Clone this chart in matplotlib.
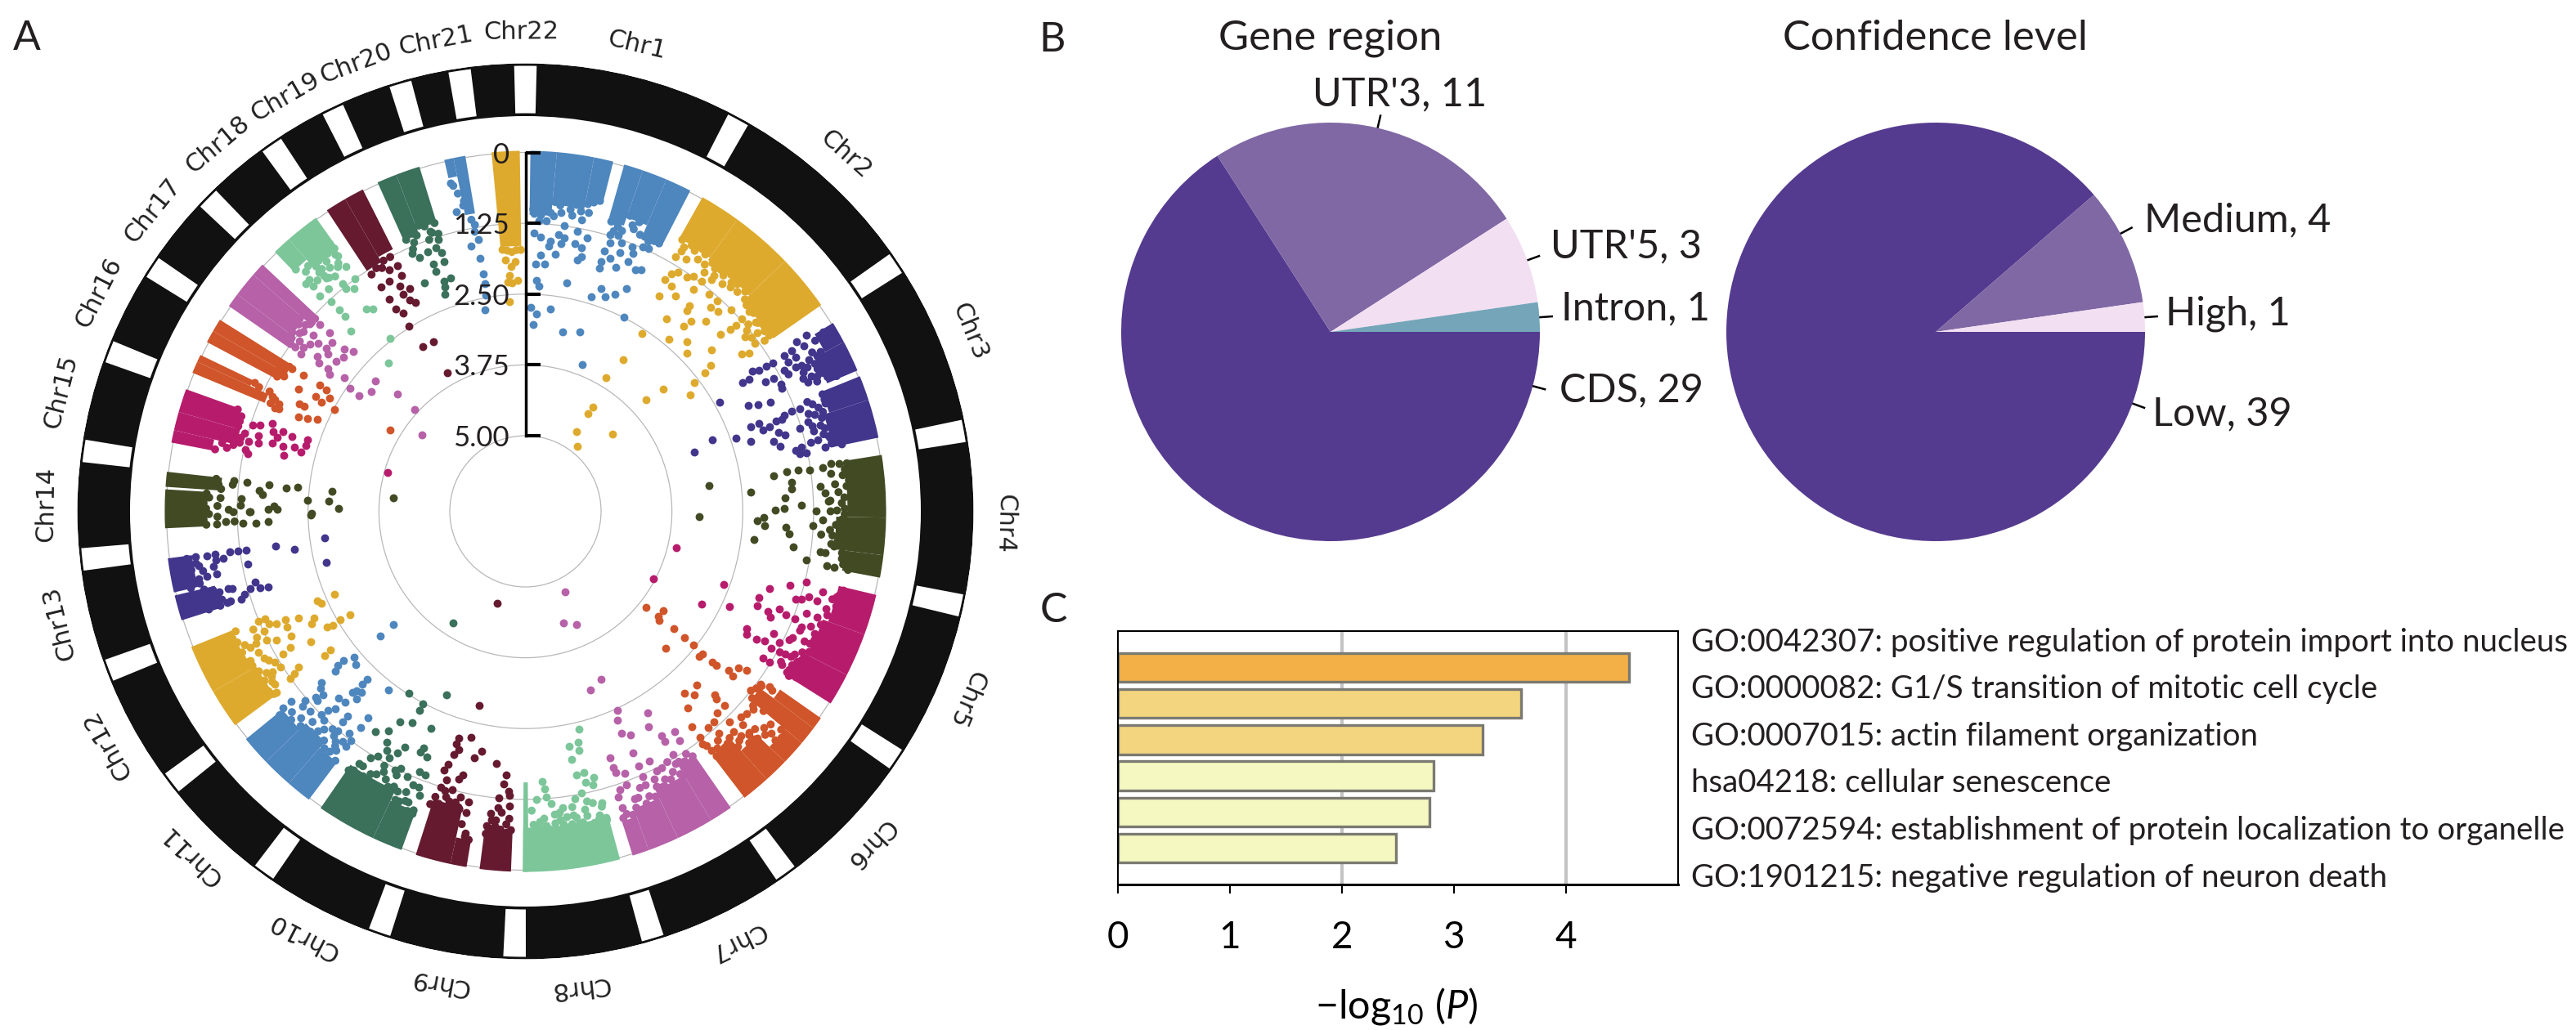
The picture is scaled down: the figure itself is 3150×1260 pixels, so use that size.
import numpy as np
import matplotlib
matplotlib.use('Agg')
import matplotlib.pyplot as plt

plt.rcParams['font.family'] = ['Lato', 'DejaVu Sans']
plt.rcParams['mathtext.fontset'] = 'custom'
plt.rcParams['mathtext.rm'] = 'Lato'
plt.rcParams['mathtext.it'] = 'Lato:italic'
plt.rcParams['text.color'] = '#231f20'

W, H = 3150, 1260

# panel A: chromosome gaps (deg clockwise from top) and label angles
chr_names = ['Chr%d' % i for i in range(1, 23)]
chr_gaps = [0, 28.5, 56.2, 79.6, 102.2, 123.8, 144.3, 163.4, 181.4, 199.1, 215.9,
            232.5, 249.1, 263.8, 277.8, 291, 303.2, 314.6, 325.3, 334.4, 343.7, 351.5]
chr_label_theta = [13.4, 41.9, 68, 91.5, 113, 134, 153.8, 173.5, 190.3, 207.5, 224.2,
                   240.8, 256.5, 270.8, 284.4, 297.1, 308.9, 320, 329.9, 339.3, 349.2, 359.5]
chr_colors = ['#4e86be', '#deaa2e', '#41358c', '#424a24', '#b71c6c', '#d0552a', '#b661a8',
              '#7cc69a', '#651a2f', '#3b705b', '#4e86be', '#deaa2e', '#41358c', '#424a24',
              '#b71c6c', '#d0552a', '#b661a8', '#7cc69a', '#651a2f', '#3b705b', '#4e86be', '#deaa2e']
scale_ticks = [0, 1.25, 2.5, 3.75, 5]
scale_labels = ['0', '1.25', '2.50', '3.75', '5.00']

# saturated part of each chromosome near -log10 P = 0
block_chr = [1, 1, 1, 1, 1, 1, 2, 2, 2, 3, 3, 3, 3, 4, 4, 4, 5, 5, 5, 6, 6, 6, 6, 6, 7, 7, 7, 7,
             8, 8, 9, 9, 9, 10, 10, 11, 11, 11, 12, 12, 13, 13, 14, 14, 15, 15, 15,
             16, 16, 16, 16, 17, 17, 17, 18, 18, 19, 19, 20, 20, 21, 21, 22]
block_start = [0.8, 5, 11, 15.9, 19, 23, 29.4, 36, 46, 58.5, 62, 68, 72, 81, 91, 97, 103.4, 110, 117,
               125, 127, 130, 134, 138, 145.3, 149, 155, 160, 164.8, 179.5, 182.3, 189.4, 192,
               200.1, 205, 216.9, 221, 226, 233.6, 240, 252.4, 257, 267.3, 273.9, 281, 283, 286,
               292.6, 294.5, 298, 300, 304.7, 307, 311, 316, 319, 326.6, 330, 335.8, 339, 347, 348.5, 354.6]
block_end = [5, 11, 14.1, 19, 23, 27.2, 36, 46, 55.1, 62, 67, 72, 78.2, 91, 97, 100.6, 110, 117, 122.2,
             127, 130, 134, 138, 142.6, 149, 155, 160, 162.7, 180.4, 180.4, 187.3, 192, 197.7,
             205, 214.6, 221, 226, 230.8, 240, 247.9, 256.5, 262.5, 273.5, 276.3, 283, 286, 289.8,
             294.5, 295.7, 300, 302.1, 307, 311, 313.2, 319, 324.5, 330, 333.2, 339, 342.9, 348.5, 350.4, 359.1]
block_depth = [1.1, 0.9, 0.75, 1.0, 0.85, 1.05, 0.8, 0.85, 1.0, 0.35, 0.55, 0.7, 0.8, 0.65, 0.85, 0.65,
               0.65, 0.75, 0.85, 0.85, 1.15, 0.35, 0.65, 0.9, 1.1, 0.9, 0.75, 0.6, 0.75, 1.55, 0.7, 0.45, 1.0,
               0.7, 0.9, 0.8, 0.95, 0.8, 0.85, 0.75, 0.7, 0.4, 0.72, 0.95, 0.7, 1.1, 1.0,
               1.35, 1.0, 1.3, 1.4, 1.25, 1.15, 1.3, 0.45, 0.65, 1.25, 1.15, 1.1, 1.0, 0.3, 1.0, 1.65]

# single points below the saturated part, read one by one
chr1_theta = [1.6, 2.7, 4.7, 4.1, 6.8, 7.7, 1.7, 3.2, 6.8, 10.5, 5.2, 8.0, 12.7, 10.5, 5.1, 12.0, 7.6, 6.7, 3.4, 2.3,
              4.5, 11.7, 12.4, 2.8, 3.5, 10.2, 18.7, 24.4, 22.5, 20.3, 17.0, 1.6, 3.2, 7.0, 2.4, 11.7, 16.8, 26.8, 21.1,
              16.8, 20.4, 17.0, 18.6, 17.5, 19.6, 20.0, 21.9, 23.9, 25.0, 16.9, 16.8, 18.6, 20.3, 16.9, 22.3, 24.4, 25.7, 22.7]
chr1_v = [1.08, 1.2, 1.04, 1.19, 1.02, 1.25, 1.42, 1.49, 1.42, 1.31, 1.55, 1.46, 1.39, 1.53, 1.64, 1.58, 1.57, 1.77, 1.8, 1.97,
          1.96, 1.81, 1.73, 2.26, 2.35, 2.24, 2.19, 2.02, 2.19, 2.29, 2.37, 2.74, 2.84, 2.73, 3.03, 3.1, 3.03, 2.49, 3.56,
          0.98, 0.94, 1.22, 1.2, 1.36, 1.3, 1.47, 1.3, 1.23, 1.21, 1.53, 1.73, 1.63, 1.74, 1.85, 1.57, 1.65, 1.61, 1.4]
chr2_theta = [30.5, 30.8, 32.5, 34.3, 31.6, 32.6, 34.5, 35.6, 37.4, 31.0, 33.0, 37.1, 40.2, 34.8, 31.8, 42.4, 38.5, 38.8, 42.3, 43.9,
              45.6, 48.3, 36.2, 40.5, 41.1, 43.4, 48.3, 50.6, 48.5, 48.4, 47.8, 50.6, 54.1, 52.4, 51.5, 53.8, 54.7, 54.0, 49.1, 45.6,
              43.6, 39.8, 33.2, 51.7, 52.4, 52.6, 54.8, 48.4, 47.2, 32.9, 31.0, 32.9, 32.6, 32.7, 38.7, 48.4, 38.6, 40.8, 42.4, 36.8, 38.7, 47.9]
chr2_v = [1.11, 0.98, 1.05, 0.94, 1.41, 1.33, 1.31, 1.24, 1.22, 1.57, 1.6, 1.42, 1.31, 1.7, 1.86, 1.31, 1.69, 1.79, 1.47, 1.44,
          1.26, 1.04, 2.13, 2.03, 1.88, 1.71, 1.23, 1.07, 1.38, 1.5, 1.69, 1.29, 1.04, 1.17, 1.38, 1.32, 1.5, 1.61, 1.99, 2.34,
          2.21, 2.38, 2.58, 2.17, 2.33, 2.59, 2.78, 3.08, 3.44, 3.15, 3.58, 4.14, 4.28, 4.67, 4.87, 4.28, 1.0, 1.02, 0.98, 1.07, 1.09, 0.95]
chr3_theta = [58.0, 59.3, 57.9, 58.9, 59.0, 60.3, 61.9, 59.0, 58.9, 58.8, 58.3, 61.5, 61.5, 61.8, 62.8, 64.7, 65.1, 65.1, 61.9, 61.6,
              59.4, 59.3, 63.5, 64.4, 62.1, 66.2, 60.6, 64.6, 65.3, 65.9, 69.5, 69.4, 69.7, 70.2, 70.9, 69.4, 69.4, 71.1, 70.3, 73.1,
              72.6, 73.5, 74.3, 75.7, 72.8, 70.9, 69.0, 70.5, 77.2, 76.9, 78.2, 78.2, 69.4, 71.5, 73.7, 70.2, 76.0, 73.8, 76.3, 77.9, 75.5, 78.0]
chr3_v = [0.69, 0.62, 0.48, 0.85, 1.0, 0.85, 0.66, 1.25, 1.38, 1.52, 1.63, 0.42, 1.13, 0.93, 0.75, 0.75, 0.66, 0.5, 1.37, 1.52,
          1.75, 1.88, 1.3, 1.32, 0.83, 0.18, 2.4, 1.98, 1.82, 1.6, 1.17, 1.32, 1.46, 1.63, 1.77, 1.94, 2.09, 1.9, 1.53, 1.28,
          1.66, 1.56, 1.78, 1.69, 2.17, 2.4, 2.8, 3.18, 1.45, 1.34, 1.27, 1.39, 0.93, 0.95, 0.92, 0.71, 0.83, 0.72, 1.03, 0.92, 0.66, 0.63]
chr4_theta = [81.7, 81.4, 81.4, 81.8, 83.8, 85.2, 87.1, 88.8, 89.3, 89.7, 81.9, 85.2, 85.2, 86.5, 88.1, 89.9, 81.1, 81.6, 81.3,
              91.8, 92.3, 91.5, 93.4, 93.5, 94.8, 97.0, 97.6, 99.9, 91.7, 92.9, 97.9, 97.8, 96.0, 89.7, 98.5, 100.2, 100.3, 92.1]
chr4_v = [1.27, 1.47, 1.67, 1.91, 1.61, 1.62, 1.75, 1.47, 1.77, 1.93, 3.06, 2.35, 1.12, 1.03, 0.99, 1.21, 0.88, 1.03, 0.74,
          3.26, 2.24, 2.12, 2.1, 1.73, 1.67, 2.27, 1.56, 1.3, 1.09, 1.25, 0.99, 1.09, 0.91, 0.85, 0.69, 0.93, 0.8, 0.75]
chr5_theta = [104.1, 105.7, 107.6, 110.2, 112.1, 110.2, 117.8, 115.0, 117.8, 103.5, 107.7, 106.8, 108.1, 111.1, 112.5, 113.4, 111.6,
              111.7, 112.7, 107.1, 105.1, 105.4, 117.9, 119.1, 116.2, 119, 118.4, 117.4, 115.3, 114.9, 119.1, 118.8, 118.7, 121.7,
              121.7, 120.9, 121.6, 121.5, 116.3, 118.3, 112.9]
chr5_v = [1.23, 1.49, 1.81, 1.94, 1.92, 2.6, 2.82, 2.37, 3.78, 3.59, 1.23, 1.11, 1.32, 1.53, 1.7, 1.63, 1.39,
          1.21, 1.06, 0.95, 0.9, 0.64, 1.92, 1.87, 1.45, 1.68, 1.54, 1.29, 1.12, 0.81, 1.37, 1.11, 0.99, 1.41,
          1.27, 1.06, 0.93, 0.74, 0.75, 0.81, 0.79]
chr6_theta = [128.4, 125.8, 128.3, 129.1, 128.4, 128.4, 128.5, 134.3, 128.8, 130, 128.9, 128.9, 128, 128.4, 126.3, 125.7, 126.3, 125.7,
              135.4, 138.9, 137.4, 140.5, 142.4, 134.1, 134.5, 134.3, 136.4, 133.6, 132.5, 136, 138.2, 139.8, 142.3, 142.7, 142.2,
              138.9, 136.7, 136.2, 134.7, 134.4, 132.2, 132.1, 135.6, 139.8, 141.4, 137.9, 134.9, 138.9]
chr6_v = [3.61, 3.33, 3.35, 3.29, 3.0, 2.75, 2.55, 2.87, 2.32, 2.34, 2.1, 2.0, 1.78, 1.66, 1.67, 1.53, 1.19, 1.03,
          2.02, 2.07, 1.93, 1.84, 1.53, 1.69, 1.61, 1.42, 1.43, 1.08, 1.04, 1.16, 1.35, 1.34, 1.29, 1.17, 0.99,
          1.14, 0.99, 0.84, 0.78, 0.61, 0.65, 0.5, 0.47, 0.89, 0.77, 0.74, 0.65, 0.76]
chr7_theta = [161.2, 155.8, 153.7, 155.8, 160.1, 155.2, 156.3, 148.8, 150.2, 156.5, 154.8, 145.9, 148.7, 148.8, 146.1, 156, 161, 153.6,
              156, 161.1, 160.9, 159.2, 148.8, 149.2, 153.2, 156.1, 159.7, 161.3, 153.1, 156.3, 154.4, 162, 159.2, 161.9, 162, 148.9]
chr7_v = [4.26, 4.14, 4.75, 3.09, 2.98, 2.46, 2.31, 2.18, 1.96, 2.07, 1.97, 1.64, 1.7, 1.59, 1.46, 1.67, 1.73, 1.41,
          1.42, 1.56, 1.46, 1.38, 1.31, 1.16, 1.2, 1.22, 1.19, 1.14, 0.89, 1.06, 1.09, 1.03, 0.91, 0.83, 0.55, 0.92]
chr8_theta = [166.2, 167.1, 169.4, 167.3, 169.4, 167.3, 169.1, 165.6, 167.5, 166.1, 176.4, 176.1, 177.8, 175.9, 174.9, 170.3, 168.7,
              165.3, 172.9, 174.6, 168.8, 166.3, 165.2, 171, 172.3, 177.4, 170.3, 173, 176.2, 168.2]
chr8_v = [2.38, 2.15, 2.12, 2.01, 1.88, 1.61, 1.59, 1.48, 1.44, 1.36, 1.55, 1.42, 1.24, 1.28, 1.15, 1.19, 1.26,
          1.02, 1.06, 0.96, 0.97, 0.82, 0.75, 0.91, 0.9, 0.85, 0.73, 0.77, 0.77, 0.67]
chr9_theta = [197.2, 193.4, 196.4, 193.5, 196.6, 195.6, 196.3, 190.4, 191.8, 186.6, 184.2, 184.5, 183.4, 185.3, 183.2, 183.1, 185.2, 186.6,
              197, 197.5, 193.3, 193.9, 196.4, 197, 194.7, 192.8, 191.1, 191.2, 190.6, 192.9, 194.7, 185.5, 187.1, 183.4, 190.6]
chr9_v = [4.64, 2.81, 2.16, 2.23, 2.05, 1.97, 1.86, 2.03, 1.89, 1.86, 1.67, 1.51, 1.38, 1.25, 1.31, 1.12, 1.08, 0.97,
          1.66, 1.55, 1.55, 1.46, 1.4, 1.24, 1.25, 1.16, 1.1, 0.92, 0.5, 0.99, 1.04, 0.86, 0.75, 0.66, 0.32]
chr10_theta = [203.2, 212.9, 212.6, 208, 208, 203.5, 208.2, 210.7, 211.9, 214.2, 211, 207, 203.3, 203.5, 201.9, 208, 208.9, 205.9,
               202.2, 200.9, 206.8, 204, 202.4, 201.2, 200.5, 204.4, 201.9, 200.5, 213.4, 212.2, 211, 210.1]
chr10_v = [2.81, 3.99, 2.52, 2.48, 2.35, 2.15, 2.1, 2.01, 1.77, 1.63, 1.58, 1.66, 1.78, 1.7, 1.66, 1.51, 1.37, 1.29,
           1.37, 1.36, 1.22, 1.21, 1.12, 1.11, 0.98, 0.75, 0.8, 0.64, 1.01, 1.2, 1.29, 1.45]
chr11_theta = [229.3, 229.4, 229.6, 230.6, 227.9, 230.7, 230, 223.2, 223.4, 223.2, 223.7, 222.1, 217.4, 230, 229.2, 227.8, 228.4, 227.8,
               229.4, 228.8, 230.9, 230.9, 225, 223.3, 222, 224, 224.8, 220.9, 217.3, 220.9, 217.3, 223.9, 220.6, 220.5, 218.4, 217.2,
               218.4, 219.6, 217.4, 219.3, 220, 222.8]
chr11_v = [3.26, 2.96, 2.36, 2.18, 2.29, 2.05, 1.95, 2.26, 2.14, 1.99, 1.92, 2.03, 2.36, 1.63, 1.56, 1.51, 1.38, 1.37,
           1.21, 1.1, 1.01, 0.83, 1.68, 1.7, 1.88, 1.5, 1.39, 1.55, 1.76, 1.41, 1.54, 1.21, 1.24, 1.12, 1.34, 1.25,
           1.15, 1.07, 1.11, 0.87, 0.73, 1.1]
chr12_theta = [246.6, 246.7, 245.8, 239.6, 239.6, 239.3, 239.8, 243.2, 242.2, 244.8, 247.6, 247.6, 245.7, 244.1, 245.7, 246.3, 238.7, 241.9,
               242.7, 240, 239.5, 234.6, 234.4, 235.5, 235, 234.6, 235.4, 234, 237, 237.5, 238.9, 243.5, 245.4, 243.9, 243.7, 242.1,
               241.5, 241.9, 240.7]
chr12_v = [2.66, 2.33, 2.39, 2.74, 2.55, 2.39, 2.28, 2.16, 2.07, 1.91, 1.36, 1.24, 1.68, 1.66, 1.51, 1.4, 1.91, 1.65,
           1.39, 1.54, 1.37, 2.12, 1.97, 1.47, 1.35, 1.24, 0.97, 0.9, 1.0, 1.21, 1.17, 1.23, 1.26, 1.04, 0.92, 1.0,
           0.81, 0.64, 1.04]
chr13_theta = [262.5, 255.5, 262, 260.7, 262, 262.1, 262.2, 259.2, 258.5, 258.5, 258.3, 262.1, 262, 262.1, 261.1, 261.1, 255.2, 255.4,
               253.7, 254, 255.4, 254.4, 253.6, 252.8, 255.3, 253.8, 253, 252.9, 260.6, 257.2]
chr13_v = [2.76, 2.71, 1.89, 2.2, 1.36, 1.22, 1.07, 1.35, 0.77, 0.6, 0.45, 0.8, 0.66, 0.46, 0.94, 0.81, 0.99, 0.91,
           1.6, 1.46, 1.4, 1.29, 1.17, 1.08, 0.75, 0.75, 0.83, 0.49, 0.49, 0.27]
chr14_theta = [276, 275.5, 276, 275.9, 272.8, 272.9, 270.8, 275.8, 269.4, 274.5, 273.7, 276, 276, 269.9, 272.6, 271.2, 270.4, 271.3, 270.4,
               269, 267.8, 267.5, 267.6, 269.9, 269.9, 268, 267.6]
chr14_v = [1.79, 2.1, 2.29, 2.91, 2.48, 2.86, 3.04, 3.99, 2.56, 1.63, 1.69, 1.4, 1.16, 1.48, 1.31, 1.31, 1.79, 1.89, 1.96,
           2.55, 1.8, 1.57, 1.35, 1.47, 1.17, 1.04, 0.88]
chr15_theta = [281.7, 282.4, 284.2, 287.6, 288, 285.8, 284.4, 289.1, 287.5, 288.2, 286.6, 287.7, 285.1, 284.9, 283.1, 285.6, 284.7,
               288.1, 286.7, 285.9]
chr15_v = [1.33, 1.27, 1.3, 1.29, 1.41, 1.44, 1.47, 1.61, 1.67, 1.83, 1.77, 2.01, 1.71, 1.9, 1.96, 2.1, 2.24,
           2.29, 2.29, 3.81]
chr16_theta = [301.6, 301.5, 301.5, 298.4, 298.7, 300.1, 298.2, 295.4, 295.4, 298.1, 292.6, 293.1, 293.8, 301, 292.5, 292.6, 294.4,
               299.3, 301.4, 299.7]
chr16_v = [1.74, 2.08, 2.22, 1.79, 2.12, 2.34, 2.25, 1.92, 2.02, 2.52, 2.0, 2.15, 2.32, 3.55, 1.55, 1.62, 1.43,
           1.45, 1.5, 1.41]
chr17_theta = [305, 306.5, 307.8, 309.1, 312.4, 311.2, 309.3, 306.7, 305.7, 308.5, 311.9, 312.9, 310.3, 308.5, 305.8, 304.9, 306.5,
               305, 304.8, 311.1, 308, 312.6, 312.5, 306.4, 310.3, 309.7, 308.4, 312.3]
chr17_v = [1.5, 1.47, 1.53, 1.63, 1.65, 1.8, 1.8, 1.75, 1.84, 1.88, 2.04, 2.19, 2.12, 2.07, 2.04, 2.12, 2.36,
           2.55, 2.76, 2.83, 2.89, 3.27, 3.68, 4.07, 1.23, 1.47, 1.25, 1.43]
chr18_theta = [317.1, 317.3, 317.2, 316, 322, 317.2, 321.8, 323.1, 321.3, 322.4, 321.1, 316.4, 316.7, 316.1, 319.5, 321.3, 319.1,
               323.8, 323.7, 323.7, 323.8, 319.6]
chr18_v = [1.29, 1.5, 1.65, 1.91, 2.46, 2.77, 1.79, 1.86, 1.18, 1.38, 1.29, 1.08, 0.87, 0.75, 0.86, 0.81, 0.76,
           1.25, 0.98, 0.74, 0.48, 0.92]
chr19_theta = [330.6, 328, 331.5, 327.9, 328.3, 327.4, 331.3, 332.2, 330.6, 327.3, 327.2, 329.4, 330.9, 332.6, 332.4, 332.5, 330.6]
chr19_v = [3.52, 2.91, 2.93, 2.47, 2.23, 2.1, 2.09, 2.17, 1.94, 1.89, 1.63, 1.62, 1.79, 1.9, 1.63, 1.45, 1.44]
chr20_theta = [336.4, 337.3, 339.3, 342, 341.2, 342, 339.5, 339.5, 342.3, 340.5, 340.3, 339.6, 336.1, 342.3, 341.2]
chr20_v = [1.36, 1.48, 1.44, 1.54, 1.42, 1.7, 1.68, 1.81, 2.01, 2.02, 2.13, 2.25, 1.93, 1.3, 1.12]
chr21_theta = [347, 348.5, 350.1, 348.4, 349.8, 350, 349.9, 349.5, 348.6, 349.6]
chr21_v = [0.91, 0.82, 1.47, 1.56, 1.8, 2.08, 2.25, 2.46, 2.7, 1.31]
chr22_theta = [355.6, 355.4, 357.6, 356.6, 356.1, 355.7, 358, 356.6]
chr22_v = [2.62, 1.89, 1.92, 2.01, 2.16, 2.27, 2.26, 2.3]

# points along the lower rim of the saturated part
rim_chr = [1] * 29 + [2] * 28 + [3] * 31 + [4] * 25 + [5] * 24 + [6] * 24 + [7] * 21 + [8] * 20 + [9] * 20 + \
    [10] * 18 + [11] * 18 + [12] * 18 + [13] * 14 + [14] * 16 + [15] * 11 + [16] * 10 + [17] * 12 + [18] * 17 + \
    [19] * 5 + [20] * 11 + [21] * 6 + [22] * 5
rim_theta = [1.5, 3, 5.5, 6.5, 7.5, 8.5, 9.5, 10.5, 11.5, 12.5, 13.5, 12, 13, 9, 11, 5.5,
             16.5, 18, 19.5, 20.5, 21.5, 22.5, 23.5, 24.5, 25.5, 26.5, 17.5, 21, 19,
             30, 31, 32, 33, 34, 35, 36, 37, 38, 39, 40, 41, 42, 43, 44, 45, 46, 47, 48, 49, 50, 51, 52, 53, 54, 54.5, 52.5, 50,
             59, 59.5, 60.5, 61, 62, 63, 64, 65, 66, 66.5, 63.5, 64.5, 62.5, 60.5, 66, 65.5,
             68.5, 69.5, 70.5, 71.5, 72.5, 73.5, 74.5, 75.5, 76.5, 77.5, 71, 72.5, 74.5, 76.5, 68.8,
             81.5, 82.5, 83.5, 84.5, 85.5, 86.5, 87.5, 88.5, 89.5, 90.5, 91.5, 92.5, 93.5, 94.5, 95.5, 96.5, 97.5, 98.5, 99.5, 100.3, 85, 88, 90, 94.5, 83,
             104, 105, 106, 107, 108, 109, 110, 111, 112, 113, 114, 115, 116, 117, 118, 119, 120, 121, 122, 110, 113.5, 116, 119, 120.5,
             130.5, 131, 131.5, 132.5, 133, 133.5, 134.5, 135, 136, 137, 138, 139, 140, 141, 142, 142.3, 126, 126.5, 127.5, 128.5, 129.5, 130, 130.5, 131,
             145.7, 146.5, 147.5, 148.5, 149.5, 150.5, 151.5, 152.5, 153.5, 154.5, 155.5, 156.5, 157.5, 158.5, 159.5, 160.5, 161.5, 162.3, 152, 157.5, 150.5,
             165.2, 166.5, 167.5, 168.5, 169.5, 170.5, 171.5, 172.5, 173.5, 174.5, 175.5, 176.5, 177.5, 178.5, 167, 168, 171, 173.5, 178.8, 165.5,
             182.6, 183.5, 184.5, 185.5, 186.5, 187, 183, 184.5, 186.2, 189.8, 190.5, 191.5, 192.5, 193.5, 194.5, 195.5, 196.5, 197.5, 196, 198,
             200.5, 201.5, 202.5, 203.5, 204.5, 205.5, 206.5, 207.5, 208.5, 209.5, 210.5, 211.5, 212.5, 213.5, 214.3, 206, 209, 203,
             217.3, 218.3, 219.3, 220.3, 221.3, 222.3, 223.3, 224.3, 225.3, 226.3, 227.3, 228.3, 229.3, 230.3, 221.5, 225, 227, 219,
             234, 235, 236, 237, 238, 239, 239.8, 240.5, 241.5, 242.5, 243.5, 244.5, 245.5, 246.5, 247.5, 246.5, 244.8, 237.5,
             252.8, 253.5, 254.3, 255, 255.8, 256.3, 257.5, 258.7, 259.5, 260, 261, 262, 259.9, 253,
             267.6, 268.5, 269.5, 270.5, 271.5, 272.5, 273.2, 274.2, 275, 276, 269, 271, 272.5, 268, 270.3, 275.2,
             281.3, 282, 282.7, 283.5, 284.5, 285.5, 286.5, 287.5, 288.5, 289.5, 282.8,
             293, 294, 295, 295.4, 298.5, 299.5, 300.5, 301.5, 295.1, 293.5,
             305.5, 306.5, 307.5, 308.5, 309.5, 310.5, 311.5, 312.5, 307, 309, 311, 305.5,
             316.5, 317.5, 318.5, 319.5, 320.5, 321.5, 322.5, 323.5, 324, 317, 318, 320, 321, 322.5, 320, 323, 318.5,
             327, 328.5, 330.5, 332, 329.5,
             336.3, 337.5, 338.5, 339.5, 340.5, 341.5, 342.5, 336.8, 338, 340.5, 342.6,
             347.5, 348, 348.8, 349.5, 350, 347.2,
             355, 356, 357, 358, 359]
rim_v = [1.0, 1.1, 0.85, 0.9, 0.8, 0.95, 0.85, 0.95, 0.8, 0.75, 0.7, 0.95, 0.6, 1.05, 1.1, 1.1,
         1.0, 1.05, 0.8, 0.75, 0.85, 1.05, 1.05, 1.1, 1.05, 1.05, 1.15, 1.0, 1.1,
         0.8, 0.9, 0.8, 0.85, 0.75, 0.8, 0.95, 0.85, 0.9, 0.85, 0.9, 0.8, 0.9, 0.85, 0.95, 0.85, 0.95, 1.0, 0.9, 1.0, 0.95, 1.05, 1.0, 1.05, 0.95, 1.15, 1.3, 1.2,
         0.2, 0.4, 0.15, 0.55, 0.5, 0.6, 0.6, 0.55, 0.5, 0.35, 0.85, 0.9, 1.1, 1.0, 0.7, 0.85,
         0.7, 0.7, 0.85, 0.8, 0.85, 1.05, 0.85, 0.9, 0.8, 0.8, 1.05, 1.1, 1.05, 1.15, 1.0,
         0.6, 0.65, 0.7, 0.6, 0.65, 0.8, 0.7, 0.75, 0.7, 0.7, 0.75, 0.85, 0.95, 0.9, 0.8, 0.85, 0.7, 0.6, 0.65, 0.55, 0.85, 0.95, 0.95, 1.1, 0.9,
         0.55, 0.6, 0.7, 0.6, 0.75, 0.7, 0.85, 0.75, 0.9, 0.7, 0.75, 0.9, 0.7, 0.85, 0.95, 0.85, 0.9, 0.9, 0.85, 1.05, 1.05, 1.15, 1.2, 1.1,
         0.4, 0.6, 0.3, 0.35, 0.55, 0.75, 0.95, 0.75, 0.65, 0.8, 0.95, 0.9, 1.05, 0.95, 0.85, 1.1, 0.95, 1.15, 1.2, 1.25, 1.15, 0.85, 1.05, 1.0,
         1.1, 1.2, 1.1, 1.15, 0.95, 1.05, 0.95, 1.0, 0.9, 0.95, 0.8, 0.85, 0.75, 0.9, 0.75, 0.65, 0.7, 0.65, 1.2, 1.05, 1.25,
         0.7, 0.75, 0.7, 0.85, 0.75, 0.85, 0.75, 0.7, 0.85, 0.8, 0.7, 0.9, 0.75, 0.8, 1.05, 1.1, 1.05, 0.98, 1.05, 0.95,
         0.7, 0.8, 0.7, 0.75, 0.7, 0.6, 0.9, 1.0, 0.85, 0.45, 0.55, 0.7, 0.95, 1.05, 0.95, 1.1, 0.95, 1.05, 1.2, 0.9,
         0.7, 0.65, 0.8, 0.75, 0.9, 0.95, 0.9, 1.0, 1.1, 1.0, 0.95, 0.85, 1.0, 0.85, 0.8, 1.15, 1.2, 0.95,
         0.8, 0.95, 0.75, 0.85, 0.95, 0.85, 1.0, 0.9, 1.05, 0.85, 0.95, 0.8, 0.9, 0.7, 1.2, 1.25, 1.15, 1.0,
         0.85, 0.8, 0.95, 0.85, 0.95, 0.85, 1.1, 0.8, 0.75, 0.7, 0.75, 0.85, 0.75, 0.7, 0.8, 1.1, 1.1, 1.05,
         0.7, 0.6, 0.7, 0.6, 0.65, 0.5, 0.45, 0.3, 0.55, 0.35, 0.45, 0.3, 0.75, 0.9,
         0.7, 0.65, 0.75, 0.7, 0.65, 0.75, 0.7, 0.95, 0.9, 0.85, 0.9, 0.9, 0.95, 1.2, 1.1, 1.15,
         0.75, 0.95, 0.85, 1.15, 1.15, 1.2, 1.05, 1.05, 1.05, 0.95, 1.05,
         1.45, 1.5, 1.15, 1.05, 1.35, 1.3, 1.4, 1.45, 1.35, 1.6,
         1.25, 1.2, 1.15, 1.1, 1.15, 1.1, 1.3, 1.3, 1.35, 1.3, 1.3, 1.35,
         0.45, 0.6, 0.55, 0.65, 0.6, 0.7, 0.6, 0.7, 0.6, 0.75, 0.85, 0.95, 1.0, 0.9, 0.75, 0.85, 1.1,
         1.35, 1.3, 1.25, 1.25, 1.35,
         1.1, 1.2, 1.1, 0.95, 1.0, 1.15, 1.0, 1.3, 1.05, 1.25, 1.2,
         0.45, 0.6, 0.75, 1.1, 1.2, 0.4,
         1.7, 1.72, 1.75, 1.72, 1.72]

# panel B
gene_labels = ['CDS', "UTR'3", "UTR'5", 'Intron']
gene_counts = [29, 11, 3, 1]
gene_colors = ['#553b8f', '#7f68a4', '#f3dff2', '#74a5b9']
conf_labels = ['Low', 'Medium', 'High']
conf_counts = [39, 4, 1]
conf_colors = ['#553b8f', '#7f68a4', '#f3dff2']

# panel C
go_terms = ['GO:0042307: positive regulation of protein import into nucleus',
            'GO:0000082: G1/S transition of mitotic cell cycle',
            'GO:0007015: actin filament organization',
            'hsa04218: cellular senescence',
            'GO:0072594: establishment of protein localization to organelle',
            'GO:1901215: negative regulation of neuron death']
go_values = [4.565, 3.6, 3.257, 2.82, 2.78, 2.48]
go_colors = ['#f2b046', '#f3d57f', '#f3d57f', '#f5f8c0', '#f5f8c0', '#f5f8c0']


def axes_px(x0, y0, x1, y1, **kw):
    return fig.add_axes([x0 / W, 1 - y1 / H, (x1 - x0) / W, (y1 - y0) / H], **kw)


def text_px(x, y, s, size, ha='left', **kw):
    fig.text(x / W, 1 - y / H, s, fontsize=size, ha=ha, va='center', **kw)


fig = plt.figure(figsize=(W / 100, H / 100), dpi=100)

# ---- A: circular manhattan
CX, CY, R_OUT = 642.5, 625.5, 548
R_ZERO, PX_PER_UNIT = 439, 69.3


def v_of_px(r):
    return (R_ZERO - r) / PX_PER_UNIT


ax = axes_px(CX - R_OUT, CY - R_OUT, CX + R_OUT, CY + R_OUT, projection='polar')
ax.set_theta_zero_location('N')
ax.set_theta_direction(-1)
ax.set_ylim(v_of_px(0), v_of_px(R_OUT))
ax.set_xticks([])
ax.set_yticks(scale_ticks)
ax.set_yticklabels([])
ax.tick_params(axis='y', length=0)
ax.yaxis.grid(True, color='#b8b8b8', lw=0.9)
ax.set_axisbelow(True)
ax.spines['polar'].set_visible(False)
ax.patch.set_visible(False)

# black ring with white gaps
ax.bar(np.pi, v_of_px(483.5) - v_of_px(R_OUT), width=2 * np.pi, bottom=v_of_px(R_OUT),
       color='#111111', lw=0, zorder=2)
gap_height = v_of_px(487) - v_of_px(545)
ax.bar(np.radians(chr_gaps), gap_height, width=np.radians(2.9), bottom=v_of_px(545),
       color='white', lw=0, zorder=3)

for c, t0, t1, d in zip(block_chr, block_start, block_end, block_depth):
    ax.bar(np.radians((t0 + t1) / 2), d + 0.03, width=np.radians(t1 - t0), bottom=-0.03,
           color=chr_colors[c - 1], lw=0, zorder=4)

points = [(chr1_theta, chr1_v), (chr2_theta, chr2_v), (chr3_theta, chr3_v), (chr4_theta, chr4_v),
          (chr5_theta, chr5_v), (chr6_theta, chr6_v), (chr7_theta, chr7_v), (chr8_theta, chr8_v),
          (chr9_theta, chr9_v), (chr10_theta, chr10_v), (chr11_theta, chr11_v), (chr12_theta, chr12_v),
          (chr13_theta, chr13_v), (chr14_theta, chr14_v), (chr15_theta, chr15_v), (chr16_theta, chr16_v),
          (chr17_theta, chr17_v), (chr18_theta, chr18_v), (chr19_theta, chr19_v), (chr20_theta, chr20_v),
          (chr21_theta, chr21_v), (chr22_theta, chr22_v)]
for i, (th, v) in enumerate(points):
    ax.scatter(np.radians(th), v, s=50, color=chr_colors[i], lw=0, zorder=5)
ax.scatter(np.radians(rim_theta), rim_v, s=50, color=[chr_colors[c - 1] for c in rim_chr], lw=0, zorder=5)

for name, t in zip(chr_names, chr_label_theta):
    ax.text(np.radians(t), v_of_px(586), name, family='DejaVu Sans', fontsize=22, color='#222222',
            rotation=-t, rotation_mode='anchor', ha='center', va='center')

# the p value scale on top of the points
ax_s = axes_px(CX, R_ZERO * -1 + CY, CX + 60, CY - (R_ZERO - 5 * PX_PER_UNIT))
ax_s.set_ylim(5, 0)
ax_s.set_xticks([])
ax_s.set_yticks(scale_ticks)
ax_s.set_yticklabels(scale_labels, fontsize=25, color='#231f20')
ax_s.tick_params(axis='y', direction='in', length=13, width=3, pad=14)
for s in ['top', 'right', 'bottom']:
    ax_s.spines[s].set_visible(False)
ax_s.spines['left'].set_linewidth(2.5)
ax_s.patch.set_visible(False)


# ---- B: pies
def draw_pie(cx, cy, counts, colors, leader_angles):
    a = axes_px(cx - 320, cy - 320, cx + 320, cy + 320)
    a.pie(counts, colors=colors, startangle=0, counterclock=False, radius=1,
          wedgeprops={'linewidth': 0})
    a.set_xlim(-1.25, 1.25)
    a.set_ylim(-1.25, 1.25)
    for ang in leader_angles:
        c, s = np.cos(np.radians(ang)), np.sin(np.radians(ang))
        a.plot([c, 1.06 * c], [s, 1.06 * s], color='black', lw=1.8, clip_on=False, zorder=0)


draw_pie(1627, 406, gene_counts, gene_colors, [-15, 77, 20, 4])
draw_pie(2367, 406, conf_counts, conf_colors, [-20, 28, 4])

text_px(1627, 47, 'Gene region', 36.5, ha='center')
text_px(2366, 47, 'Confidence level', 36.5, ha='center')
text_px(1907, 477, '%s, %d' % (gene_labels[0], gene_counts[0]), 35)
text_px(1605, 115, '%s, %d' % (gene_labels[1], gene_counts[1]), 35)
text_px(1896, 301, '%s, %d' % (gene_labels[2], gene_counts[2]), 35)
text_px(1909, 377, '%s, %d' % (gene_labels[3], gene_counts[3]), 35)
text_px(2632, 506, '%s, %d' % (conf_labels[0], conf_counts[0]), 35)
text_px(2622, 269, '%s, %d' % (conf_labels[1], conf_counts[1]), 35)
text_px(2648, 384, '%s, %d' % (conf_labels[2], conf_counts[2]), 35)

# ---- C: enrichment bars
ax_c = axes_px(1366.7, 771.6, 2051.8, 1081.6)
ax_c.axvline(2, color='#c4c4c4', lw=3, zorder=0)
ax_c.axvline(4, color='#c4c4c4', lw=3, zorder=0)
ax_c.barh(range(len(go_values)), go_values, height=0.8, color=go_colors,
          edgecolor='#7a7a72', linewidth=2.4, zorder=2)
ax_c.set_xlim(0, 5)
ax_c.set_ylim(5.99, -1.01)
ax_c.set_yticks([])
ax_c.set_xticks([0, 1, 2, 3, 4])
ax_c.tick_params(axis='x', length=8, width=1.5, labelsize=33, pad=24)
for s in ax_c.spines.values():
    s.set_linewidth(1.5)
ax_c.spines['bottom'].set_linewidth(2.2)
ax_c.set_xlabel(r'$\mathrm{-log}_{10}$ ($\mathit{P}$)', fontsize=35)
ax_c.xaxis.set_label_coords((1708 - 1366.7) / 685.1, -0.40)

go_y = [786, 843, 901, 958, 1016, 1074]
for term, y in zip(go_terms, go_y):
    text_px(2068, y, term, 27.7)

text_px(16, 47, 'A', 36)
text_px(1270, 49, 'B', 36)
text_px(1272, 747, 'C', 36)

fig.savefig('out.png', dpi=100)
